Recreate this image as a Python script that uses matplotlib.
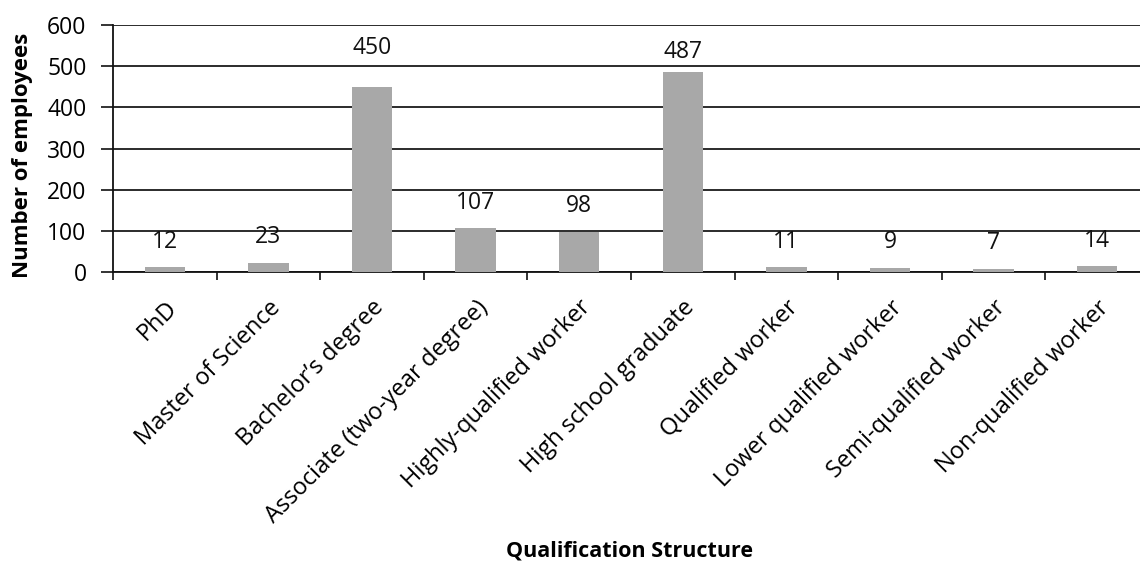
import matplotlib
matplotlib.use("Agg")
import matplotlib.pyplot as plt
import numpy as np

categories = ["PhD", "Master of Science", "Bachelor\u2019s degree", "Associate (two-year degree)",
              "Highly-qualified worker", "High school graduate", "Qualified worker",
              "Lower qualified worker", "Semi-qualified worker", "Non-qualified worker"]
values = [12, 23, 450, 107, 98, 487, 11, 9, 7, 14]
# baseline heights (in data units) of the value labels as placed in the original
label_y = [58, 71, 529, 154, 146, 520, 58, 58, 56, 61]
yticks = [0, 100, 200, 300, 400, 500, 600]

plt.rcParams['font.family'] = ['Open Sans', 'DejaVu Sans']

W, H = 1140, 562
fig = plt.figure(figsize=(W / 100, H / 100), dpi=100)
left, right, top, bottom = 113, 1149, 25, 272
ax = fig.add_axes([left / W, 1 - bottom / H, (right - left) / W, (bottom - top) / H])

x = np.arange(len(categories))
ax.bar(x, values, width=0.39, color='#a8a8a8', zorder=3)
for xi, v, ly in zip(x, values, label_y):
    ax.text(xi, ly, str(v), ha='center', va='baseline', fontsize=16.5, color='#111111')

ax.set_xlim(-0.5, len(categories) - 0.5)
ax.set_ylim(0, 600)
ax.set_yticks(yticks)
ax.set_yticklabels([str(t) for t in yticks], fontsize=16.5)
ax.yaxis.grid(True, color='#1a1a1a', linewidth=1.3, zorder=0)
ax.set_axisbelow(True)

ax.set_xticks(np.arange(len(categories) + 1) - 0.5, minor=False)
ax.set_xticklabels([])
ax.set_xticks(x, minor=True)
ax.set_xticklabels(categories, minor=True, rotation=45, ha='right', va='top',
                   rotation_mode='anchor', fontsize=17)
ax.tick_params(axis='x', which='major', length=6, width=1.2, direction='out', color='#111111')
ax.tick_params(axis='x', which='minor', length=0, pad=17)
ax.tick_params(axis='y', length=9, width=1.2, direction='out', color='#111111', pad=10)

for s in ['top', 'right']:
    ax.spines[s].set_visible(False)
for s in ['left', 'bottom']:
    ax.spines[s].set_linewidth(1.3)
    ax.spines[s].set_color('#111111')

fig.text(23 / W, 1 - 155 / H, "Number of employees", rotation=90, ha='center', va='center',
         fontsize=16, fontweight='bold')
fig.text(629 / W, 1 - 557 / H, "Qualification Structure", ha='center', va='baseline',
         fontsize=15.5, fontweight='bold')

fig.savefig("out.png", dpi=100)
